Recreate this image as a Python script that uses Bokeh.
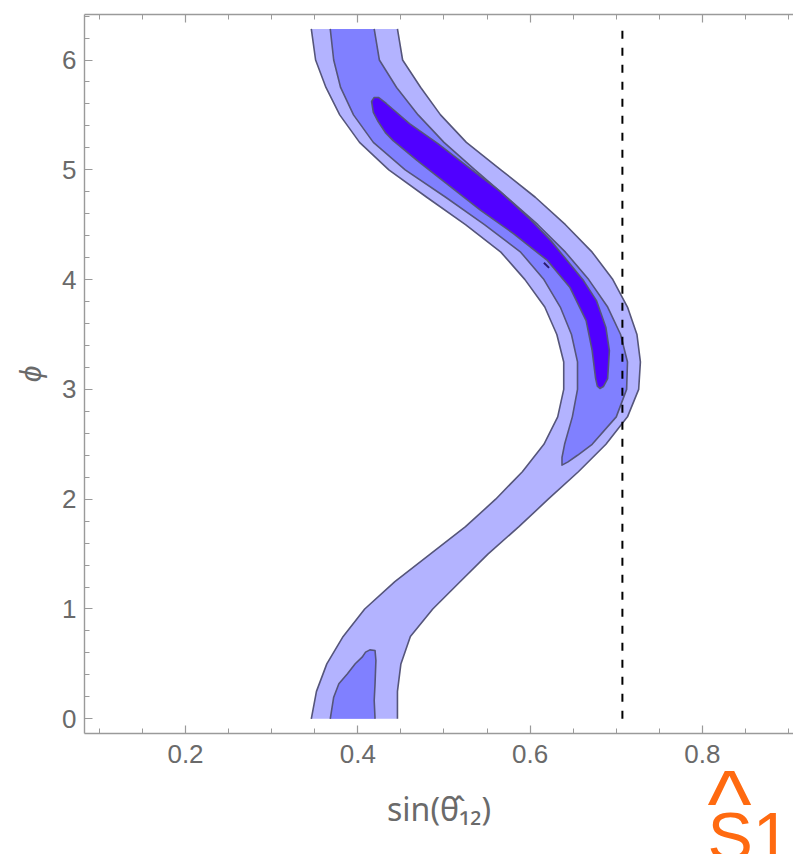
from bokeh.plotting import figure
from bokeh.models import Range1d, LinearAxis, SingleIntervalTicker, Label
from bokeh.embed import file_html
from bokeh.resources import INLINE

# ---------------- data ----------------
# outer (lightest) band: left / right boundary x at each phi level
phi_levels = [0.0, 0.25, 0.5, 0.75, 1.0, 1.25, 1.5, 1.75, 2.0, 2.25, 2.5, 2.75, 3.0,
              3.25, 3.5, 3.75, 4.0, 4.25, 4.5, 4.75, 5.0, 5.25, 5.5, 5.75, 6.0, 6.283]
outer_left = [0.346, 0.352, 0.364, 0.383, 0.408, 0.443, 0.484, 0.525, 0.560, 0.591, 0.616, 0.632, 0.639,
              0.639, 0.631, 0.617, 0.594, 0.566, 0.525, 0.480, 0.436, 0.402, 0.379, 0.363, 0.351, 0.346]
outer_right = [0.446, 0.446, 0.450, 0.461, 0.487, 0.519, 0.551, 0.587, 0.621, 0.656, 0.688, 0.713, 0.726,
               0.728, 0.724, 0.713, 0.696, 0.672, 0.641, 0.606, 0.566, 0.526, 0.496, 0.473, 0.452, 0.446]

# middle band, upper part (open contour, from top-left round the tip to top-right)
mid_upper_x = [0.368, 0.372, 0.380, 0.395, 0.418, 0.455, 0.502, 0.547, 0.589, 0.616, 0.635, 0.648,
               0.655, 0.655, 0.649, 0.640, 0.637, 0.637, 0.644, 0.655, 0.672, 0.700, 0.712, 0.713,
               0.705, 0.690, 0.668, 0.641, 0.609, 0.573, 0.536, 0.500, 0.470, 0.445, 0.425, 0.419]
mid_upper_phi = [6.283, 6.0, 5.75, 5.5, 5.25, 5.0, 4.75, 4.5, 4.25, 4.0, 3.75, 3.5,
                 3.25, 3.0, 2.75, 2.5, 2.38, 2.31, 2.34, 2.40, 2.5, 2.75, 3.0, 3.25,
                 3.5, 3.75, 4.0, 4.25, 4.5, 4.75, 5.0, 5.25, 5.5, 5.75, 6.0, 6.283]

# middle band, small lower-left part
mid_lower_x = [0.368, 0.372, 0.378, 0.388, 0.397, 0.405, 0.409, 0.414, 0.420, 0.421, 0.420, 0.419, 0.420]
mid_lower_phi = [0.0, 0.197, 0.319, 0.410, 0.501, 0.561, 0.607, 0.628, 0.622, 0.531, 0.319, 0.167, 0.0]

# innermost (darkest) region, closed contour
inner_x = [0.416, 0.418, 0.423, 0.432, 0.441, 0.469, 0.503, 0.543, 0.581, 0.620, 0.646, 0.665,
           0.672, 0.676, 0.678, 0.681, 0.685, 0.690, 0.692, 0.688, 0.677, 0.662, 0.643, 0.624,
           0.598, 0.564, 0.529, 0.493, 0.460, 0.433, 0.424, 0.419, 0.416]
inner_phi = [5.622, 5.522, 5.447, 5.339, 5.266, 5.084, 4.875, 4.629, 4.417, 4.174, 3.931, 3.627,
             3.354, 3.100, 3.030, 3.008, 3.026, 3.099, 3.354, 3.563, 3.809, 3.991, 4.173, 4.355,
             4.565, 4.811, 5.020, 5.239, 5.421, 5.604, 5.659, 5.659, 5.622]

# tiny closed contour inside the dark region
spot_x = [0.616, 0.622]
spot_phi = [4.153, 4.107]

# vertical dashed reference line
ref_x = [0.7071, 0.7071]
ref_phi = [0.0, 6.2832]

x_ticks = [0.2, 0.4, 0.6, 0.8]
y_ticks = [0, 1, 2, 3, 4, 5, 6]

# plot box (data coordinates of the frame edges) and whole-canvas view
box_x = (0.0828, 0.9057)
box_y = (-0.131, 6.414)
view_x = (-0.01474, 0.9057)
view_y = (-1.2359, 6.5419)

LIGHT = "#B3B3FF"
MID = "#8080FF"
DARK = "#5000FF"
EDGE = "#55557A"
AXC = "#9a9a9a"
TXT = "#6a6a6a"
ORANGE = "#FF6A10"
FONT = "Liberation Sans"

p = figure(width=793, height=854,
           x_range=Range1d(*view_x), y_range=Range1d(*view_y),
           x_axis_location=None, y_axis_location=None,
           output_backend="svg", toolbar_location=None,
           min_border=0, min_border_left=0, min_border_right=0,
           min_border_top=0, min_border_bottom=0)
p.grid.visible = False
p.outline_line_color = None

LW = 1.6
# outer band
band_x = outer_left + outer_right[::-1]
band_y = phi_levels + phi_levels[::-1]
p.patch(band_x, band_y, fill_color=LIGHT, line_alpha=0)
p.line(outer_left, phi_levels, line_color=EDGE, line_width=LW, line_join="round")
p.line(outer_right, phi_levels, line_color=EDGE, line_width=LW, line_join="round")

# middle band
p.patch(mid_upper_x, mid_upper_phi, fill_color=MID, line_alpha=0)
p.line(mid_upper_x, mid_upper_phi, line_color=EDGE, line_width=LW, line_join="round")
p.patch(mid_lower_x, mid_lower_phi, fill_color=MID, line_alpha=0)
p.line(mid_lower_x, mid_lower_phi, line_color=EDGE, line_width=LW, line_join="round")

# inner region
p.patch(inner_x, inner_phi, fill_color=DARK, line_color=EDGE, line_width=LW, line_join="round")
p.line(spot_x, spot_phi, line_color="#2a1a70", line_width=2)

# dashed line
p.line(ref_x, ref_phi, line_color="black", line_width=2, line_dash="8 9")


def style(ax):
    ax.axis_line_color = AXC
    ax.axis_line_width = 1.4
    ax.major_tick_line_color = AXC
    ax.minor_tick_line_color = AXC
    ax.major_tick_line_width = 1.2
    ax.minor_tick_line_width = 1.0
    ax.major_tick_in = 8
    ax.major_tick_out = 0
    ax.minor_tick_in = 5
    ax.minor_tick_out = 0
    ax.major_label_text_color = TXT
    ax.major_label_text_font = FONT
    ax.major_label_text_font_size = "26px"
    ax.axis_label_text_color = TXT


xa = LinearAxis(fixed_location=box_y[0], bounds=box_x,
                ticker=SingleIntervalTicker(interval=0.2, num_minor_ticks=4))
style(xa)
xa.major_label_overrides = {v: str(v) for v in x_ticks}
xa.major_label_standoff = 12
xa.axis_label = "sin(θ̂₁₂)"
xa.axis_label_text_font = "Noto Sans"
xa.axis_label_text_font_size = "32px"
xa.axis_label_text_font_style = "normal"
xa.axis_label_standoff = 20
p.add_layout(xa, "below")

ya = LinearAxis(fixed_location=box_x[0], bounds=box_y,
                ticker=SingleIntervalTicker(interval=1, num_minor_ticks=5))
style(ya)
ya.major_label_standoff = 8
ya.axis_label = "ϕ"
ya.axis_label_text_font = FONT
ya.axis_label_text_font_size = "30px"
ya.axis_label_text_font_style = "italic"
ya.axis_label_standoff = 12
p.add_layout(ya, "left")

top = LinearAxis(fixed_location=box_y[1], bounds=box_x,
                 ticker=SingleIntervalTicker(interval=0.2, num_minor_ticks=4))
style(top)
top.major_label_text_font_size = "1px"
top.major_label_text_alpha = 0
top.major_label_standoff = 0
p.add_layout(top, "above")

# orange annotation (hat over S12), partly cut by the page edge
p.add_layout(Label(x=0.8059, y=-0.77, text="^", text_color=ORANGE,
                   text_font=FONT, text_font_size="94px", text_baseline="alphabetic"))
p.add_layout(Label(x=0.8059, y=-1.066, text="S12", text_color=ORANGE,
                   text_font=FONT, text_font_size="68px", text_baseline="alphabetic"))

open("out.html", "w").write(file_html(p, INLINE))
